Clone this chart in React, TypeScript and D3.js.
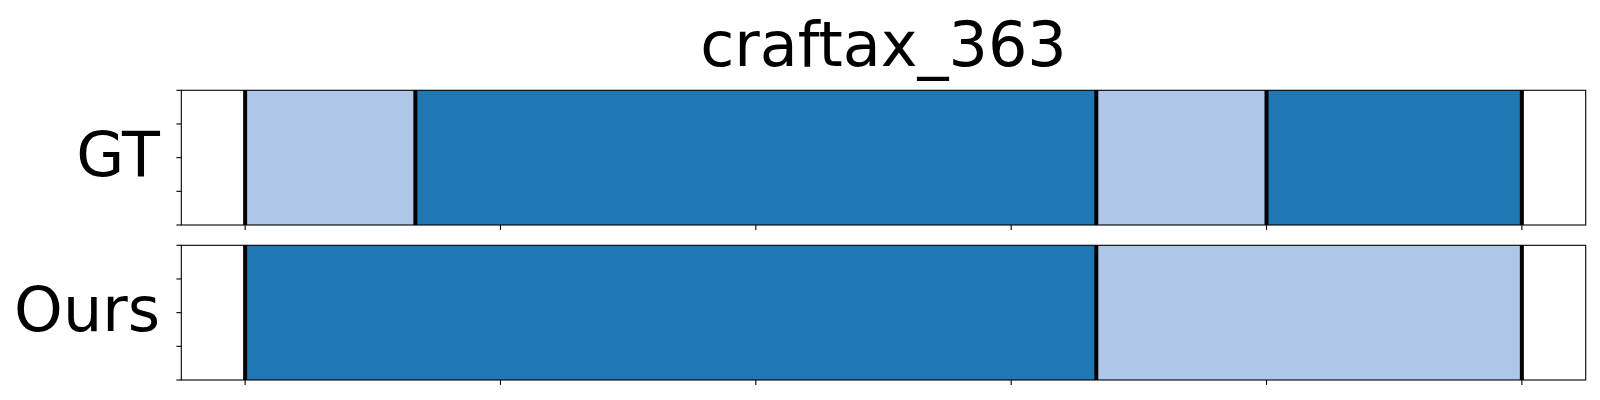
import * as d3 from "d3";

const title = "craftax_363";
const rowNames = ["GT", "Ours"];
// segment boundaries (frame index) and class per segment, one list per row
const gtBounds = [0, 2, 10, 12, 15];
const gtClasses = [1, 0, 1, 0];
const oursBounds = [0, 10, 15];
const oursClasses = [0, 1];
const xTicks = [0, 3, 6, 9, 12, 15];
const yTicks = [0, 0.25, 0.5, 0.75, 1];
const classColors = ["#1f77b4", "#aec7e8"];

const W = 1600;
const H = 400;
const left = 181.3;
const right = 1585.7;
const panels = [
    { top: 90.3, bottom: 225 },
    { top: 245.3, bottom: 380 },
];

export default function App() {
    const x = d3.scaleLinear().domain([-0.75, 15.75]).range([left, right]);
    const rows = [
        { name: rowNames[0], bounds: gtBounds, classes: gtClasses },
        { name: rowNames[1], bounds: oursBounds, classes: oursClasses },
    ];
    const font = "DejaVu Sans, sans-serif";

    return (
        <div style={{ position: "absolute", left: 0, top: 0 }}>
            <svg width={W} height={H} style={{ display: "block", background: "#fff" }}>
                <text x={(left + right) / 2} y={66} textAnchor="middle" fontFamily={font} fontSize={62}>
                    {title}
                </text>
                {rows.map((row, i) => {
                    const p = panels[i];
                    const y = d3.scaleLinear().domain([0, 1]).range([p.bottom, p.top]);
                    return (
                        <g key={row.name}>
                            {row.classes.map((c, j) => (
                                <rect
                                    key={j}
                                    x={x(row.bounds[j])}
                                    y={y(1)}
                                    width={x(row.bounds[j + 1]) - x(row.bounds[j])}
                                    height={y(0) - y(1)}
                                    fill={classColors[c]}
                                />
                            ))}
                            {row.bounds.map((b, j) => (
                                <line key={"b" + j} x1={x(b)} x2={x(b)} y1={y(0)} y2={y(1)} stroke="#000" strokeWidth={4} />
                            ))}
                            <rect
                                x={left}
                                y={p.top}
                                width={right - left}
                                height={p.bottom - p.top}
                                fill="none"
                                stroke="#000"
                                strokeWidth={1.1}
                            />
                            {yTicks.map((t) => (
                                <line key={"y" + t} x1={left - 4.9} x2={left} y1={y(t)} y2={y(t)} stroke="#000" strokeWidth={1.1} />
                            ))}
                            {xTicks.map((t) => (
                                <line key={"x" + t} x1={x(t)} x2={x(t)} y1={p.bottom} y2={p.bottom + 4.9} stroke="#000" strokeWidth={1.1} />
                            ))}
                            {/* row label, baseline a little below the panel centre */}
                            <text
                                x={160}
                                y={(p.top + p.bottom) / 2 + 18}
                                textAnchor="end"
                                fontFamily={font}
                                fontSize={62}
                            >
                                {row.name}
                            </text>
                        </g>
                    );
                })}
            </svg>
        </div>
    );
}
